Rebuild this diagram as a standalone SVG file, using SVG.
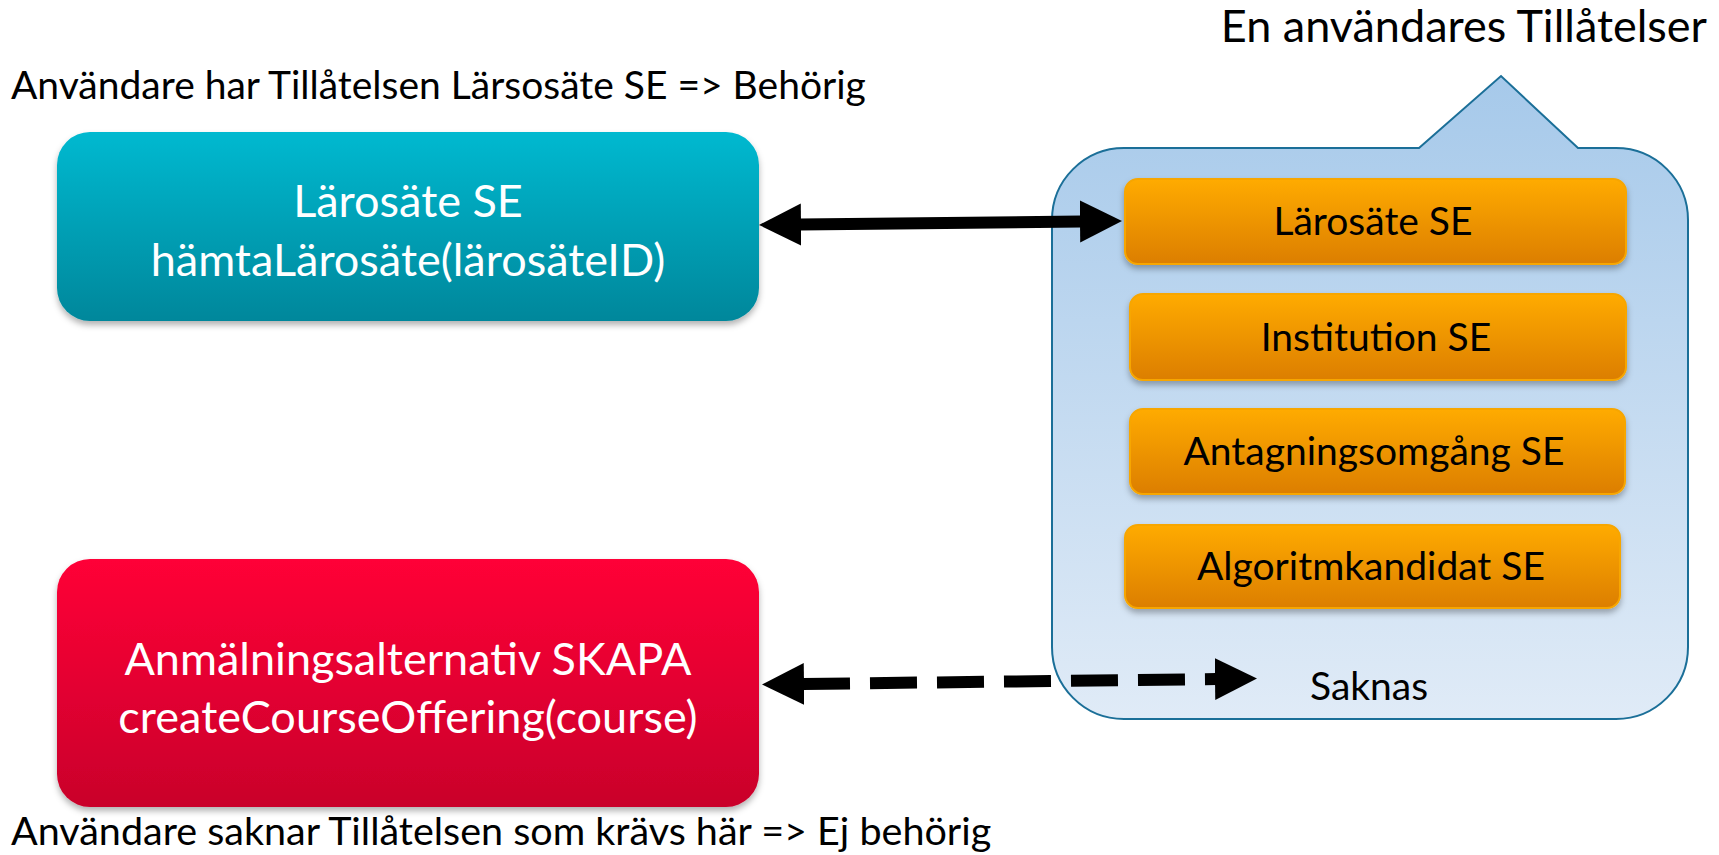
<svg xmlns="http://www.w3.org/2000/svg" width="1719" height="855" viewBox="0 0 1719 855">
<style>
  .lbl { font-family: "Lato", "Liberation Sans", sans-serif; fill: #000; }
  .big { font-family: "Lato", "Liberation Sans", sans-serif; fill: #fff; font-size: 45px; text-anchor: middle; }
  .perm { font-family: "Lato", "Liberation Sans", sans-serif; fill: #000; font-size: 39px; text-anchor: middle; }
  .obox { fill: url(#gOrange); stroke: #f7a600; stroke-width: 2; filter: url(#sh); }
  .conn { stroke: #000; stroke-width: 12; fill: none; }
</style>
<defs>
  <linearGradient id="gTeal" x1="0" y1="0" x2="0" y2="1">
    <stop offset="0" stop-color="#00b9d0"/>
    <stop offset="1" stop-color="#00879b"/>
  </linearGradient>
  <linearGradient id="gRed" x1="0" y1="0" x2="0" y2="1">
    <stop offset="0" stop-color="#ff0037"/>
    <stop offset="1" stop-color="#c9002b"/>
  </linearGradient>
  <linearGradient id="gOrange" x1="0" y1="0" x2="0" y2="1">
    <stop offset="0" stop-color="#ffab00"/>
    <stop offset="1" stop-color="#dc7e00"/>
  </linearGradient>
  <linearGradient id="gCallout" x1="0" y1="0" x2="0" y2="1">
    <stop offset="0" stop-color="#a6c9ea"/>
    <stop offset="1" stop-color="#e0ebf7"/>
  </linearGradient>
  <filter id="sh" x="-10%" y="-20%" width="120%" height="150%">
    <feDropShadow dx="0" dy="4" stdDeviation="3" flood-color="#000" flood-opacity="0.3"/>
  </filter>
  <marker id="head" markerUnits="userSpaceOnUse" markerWidth="44" markerHeight="44" refX="1" refY="21" orient="auto-start-reverse" viewBox="0 0 44 42">
    <path d="M0,0 L42,21 L0,42 Z" fill="#000"/>
  </marker>
</defs>

<rect width="1719" height="855" fill="#fff"/>

<g id="callout">
  <path d="M1124,148 L1419,148 L1501,76 L1578,148 L1616,148 A72,72 0 0 1 1688,220 L1688,647 A72,72 0 0 1 1616,719 L1124,719 A72,72 0 0 1 1052,647 L1052,220 A72,72 0 0 1 1124,148 Z" fill="url(#gCallout)" stroke="#1b6f98" stroke-width="2"/>
</g>

<g id="perm-larosate">
  <rect class="obox" x="1125" y="179" width="501" height="85" rx="13"/>
  <text class="perm" x="1373" y="235">Lärosäte SE</text>
</g>
<g id="perm-institution">
  <rect class="obox" x="1130" y="294" width="496" height="86" rx="13"/>
  <text class="perm" x="1376" y="351">Institution SE</text>
</g>
<g id="perm-antagning">
  <rect class="obox" x="1130" y="409" width="495" height="85" rx="13"/>
  <text class="perm" x="1374" y="465">Antagningsomgång SE</text>
</g>
<g id="perm-algoritm">
  <rect class="obox" x="1125" y="525" width="495" height="83" rx="13"/>
  <text class="perm" x="1371" y="580">Algoritmkandidat SE</text>
</g>

<g id="node-teal">
  <rect x="57" y="132" width="702" height="189" rx="33" fill="url(#gTeal)" filter="url(#sh)"/>
  <text class="big" x="408" y="217">Lärosäte SE</text>
  <text class="big" x="408" y="276">hämtaLärosäte(lärosäteID)</text>
</g>

<g id="node-red">
  <rect x="57" y="559" width="702" height="248" rx="33" fill="url(#gRed)" filter="url(#sh)"/>
  <text class="big" x="408" y="675">Anmälningsalternativ SKAPA</text>
  <text class="big" x="408" y="733">createCourseOffering(course)</text>
</g>

<g id="connectors">
  <line class="conn" x1="800" y1="224.5" x2="1081" y2="221.5" marker-start="url(#head)" marker-end="url(#head)"/>
  <line class="conn" x1="803" y1="684" x2="1216" y2="679" stroke-dasharray="47 20" marker-start="url(#head)" marker-end="url(#head)"/>
</g>

<g id="labels">
  <text class="lbl" x="1707" y="42" font-size="45" text-anchor="end">En användares Tillåtelser</text>
  <text class="lbl" x="11" y="99" font-size="39">Användare har Tillåtelsen Lärsosäte SE =&gt; Behörig</text>
  <text class="lbl" x="11" y="845" font-size="39.5">Användare saknar Tillåtelsen som krävs här =&gt; Ej behörig</text>
  <text class="lbl" x="1310" y="700" font-size="39">Saknas</text>
</g>
</svg>
